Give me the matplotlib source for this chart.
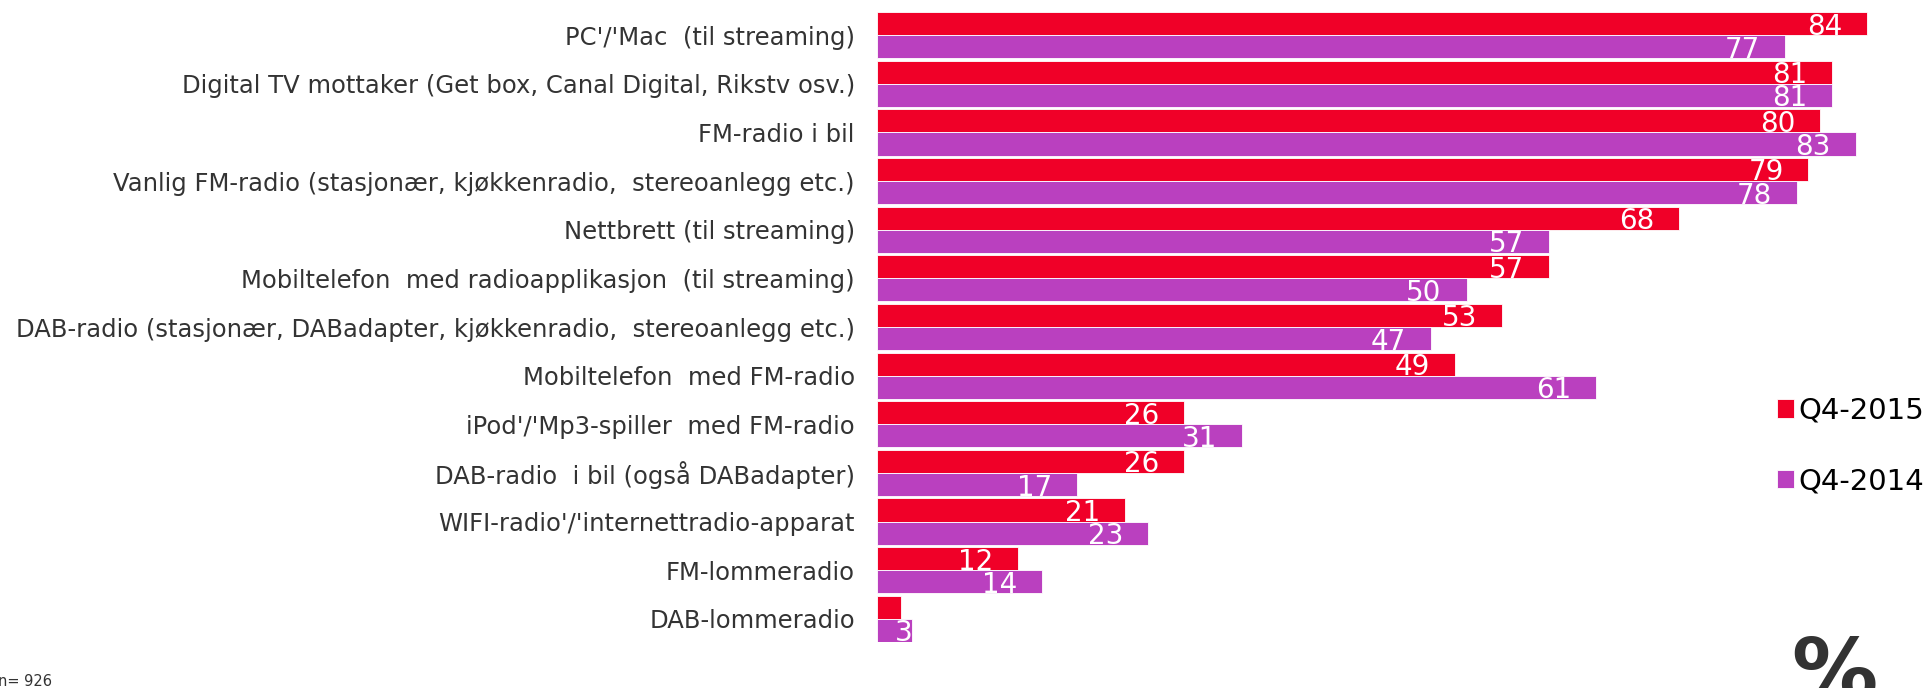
import numpy as np
import matplotlib
matplotlib.use("Agg")
import matplotlib.pyplot as plt

# data
categories = [
    "PC'/'Mac  (til streaming)",
    "Digital TV mottaker (Get box, Canal Digital, Rikstv osv.)",
    "FM-radio i bil",
    "Vanlig FM-radio (stasjonær, kjøkkenradio,  stereoanlegg etc.)",
    "Nettbrett (til streaming)",
    "Mobiltelefon  med radioapplikasjon  (til streaming)",
    "DAB-radio (stasjonær, DABadapter, kjøkkenradio,  stereoanlegg etc.)",
    "Mobiltelefon  med FM-radio",
    "iPod'/'Mp3-spiller  med FM-radio",
    "DAB-radio  i bil (også DABadapter)",
    "WIFI-radio'/'internettradio-apparat",
    "FM-lommeradio",
    "DAB-lommeradio",
]
q4_2015 = [84, 81, 80, 79, 68, 57, 53, 49, 26, 26, 21, 12, 2]
q4_2014 = [77, 81, 83, 78, 57, 50, 47, 61, 31, 17, 23, 14, 3]
series_names = ["Q4-2015", "Q4-2014"]

red = "#F00028"
purple = "#BA40BF"
text_col = "#333333"

W, H = 1930, 688
fig = plt.figure(figsize=(W / 100, H / 100), dpi=100)
ax = fig.add_axes([877 / W, 1 - 642 / H, (W - 877) / W, 630 / H])

y = np.arange(len(categories))
bh = 0.475
b1 = ax.barh(y - bh / 2, q4_2015, height=bh, color=red, edgecolor="white", linewidth=0.6, label=series_names[0])
b2 = ax.barh(y + bh / 2, q4_2014, height=bh, color=purple, edgecolor="white", linewidth=0.6, label=series_names[1])

ax.set_xlim(0, (W - 877) / 11.79)
ax.set_ylim(len(categories) - 1 + bh, -bh)

# value labels, white, just inside the bar end
for ys, vals in [(y - bh / 2, q4_2015), (y + bh / 2, q4_2014)]:
    for yy, v in zip(ys, vals):
        if v < 3:
            continue
        xx = v - 2.1 if v > 5 else v
        ax.text(xx, yy, str(v), color="white", fontsize=20, ha="right", va="center_baseline")

ax.set_yticks(y)
ax.set_yticklabels(categories, fontsize=17.5, color=text_col)
ax.tick_params(axis="y", length=0, pad=16)
ax.tick_params(axis="x", bottom=False, labelbottom=False)
for s in ax.spines.values():
    s.set_visible(False)

# legend
leg = fig.legend(handles=[b1, b2], loc="upper left", bbox_to_anchor=(1762 / W, 1 - 382 / H),
                 frameon=False, fontsize=21, handlelength=0.6, handleheight=0.6,
                 handletextpad=0.15, labelspacing=1.46, borderpad=0)
for t in leg.get_texts():
    t.set_color("black")

fig.text(1791 / W, 1 - 700 / H, "%", fontsize=62, fontweight="bold", color=text_col, ha="left", va="baseline")
fig.text(-2 / W, 1 - 686 / H, "n= 926", fontsize=10.5, color=text_col, ha="left", va="baseline")

fig.savefig("out.png", dpi=100)
